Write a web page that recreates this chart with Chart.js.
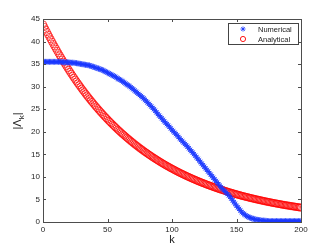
<!DOCTYPE html>
<html>
<head>
<meta charset="utf-8">
<script src="https://cdn.jsdelivr.net/npm/chart.js@4/dist/chart.umd.min.js"></script>
<style>
  body { margin: 0; background: #fff; }
  canvas { display: block; }
</style>
</head>
<body>
<canvas id="lambdaChart" width="332" height="250"></canvas>
<script>
const kValues = [0,1,2,3,4,5,6,7,8,9,10,11,12,13,14,15,16,17,18,19,20,21,22,23,24,25,26,27,28,29,
  30,31,32,33,34,35,36,37,38,39,40,41,42,43,44,45,46,47,48,49,50,51,52,53,54,55,56,57,58,59,
  60,61,62,63,64,65,66,67,68,69,70,71,72,73,74,75,76,77,78,79,80,81,82,83,84,85,86,87,88,89,
  90,91,92,93,94,95,96,97,98,99,100,101,102,103,104,105,106,107,108,109,110,111,112,113,114,
  115,116,117,118,119,120,121,122,123,124,125,126,127,128,129,130,131,132,133,134,135,136,137,
  138,139,140,141,142,143,144,145,146,147,148,149,150,151,152,153,154,155,156,157,158,159,160,
  161,162,163,164,165,166,167,168,169,170,171,172,173,174,175,176,177,178,179,180,181,182,183,
  184,185,186,187,188,189,190,191,192,193,194,195,196,197,198,199,200];

const numerical = [35.5,35.5,35.5,35.5,35.5,35.5,35.5,35.5,35.5,35.5,35.5,35.5,35.5,35.5,35.5,
  35.45,35.4,35.4,35.4,35.4,35.4,35.35,35.3,35.3,35.3,35.25,35.2,35.15,35.1,35.05,35.0,34.95,
  34.9,34.85,34.8,34.75,34.7,34.6,34.5,34.4,34.3,34.2,34.1,34.0,33.9,33.8,33.7,33.55,33.4,33.25,
  33.1,32.95,32.8,32.65,32.5,32.35,32.2,32.0,31.8,31.65,31.5,31.3,31.1,30.9,30.7,30.5,30.3,30.1,
  29.9,29.65,29.4,29.15,28.9,28.65,28.4,28.15,27.9,27.65,27.4,27.1,26.8,26.5,26.2,25.9,25.6,25.3,
  25.0,24.65,24.3,23.95,23.6,23.3,23.0,22.65,22.3,22.0,21.7,21.4,21.1,20.75,20.4,20.1,19.8,19.5,
  19.2,18.85,18.5,18.2,17.9,17.6,17.3,17.0,16.7,16.35,16.0,15.7,15.4,15.05,14.7,14.35,14.0,13.65,
  13.3,12.95,12.6,12.25,11.9,11.55,11.2,10.85,10.5,10.15,9.8,9.45,9.1,8.75,8.4,8.05,7.7,7.4,7.1,
  6.8,6.5,6.2,5.9,5.55,5.2,4.8,4.4,4.0,3.6,3.25,2.9,2.55,2.2,1.95,1.7,1.5,1.3,1.15,1.0,0.9,0.8,
  0.7,0.6,0.55,0.5,0.45,0.4,0.35,0.3,0.3,0.3,0.25,0.2,0.2,0.2,0.2,0.2,0.2,0.2,0.2,0.2,0.2,0.2,
  0.2,0.2,0.2,0.2,0.2,0.2,0.2,0.2,0.2,0.2,0.2,0.2,0.2,0.2,0.2,0.2];

const analytical = [43.8,43.23,42.67,42.11,41.56,41.02,40.49,39.96,39.44,38.93,38.42,37.92,37.43,
  36.94,36.46,35.99,35.52,35.06,34.6,34.15,33.7,33.26,32.83,32.4,31.98,31.56,31.15,30.74,30.35,
  29.95,29.56,29.17,28.8,28.42,28.05,27.68,27.33,26.97,26.62,26.27,25.93,25.59,25.26,24.93,24.61,
  24.29,23.97,23.66,23.35,23.05,22.75,22.45,22.16,21.87,21.59,21.31,21.03,20.76,20.48,20.21,19.95,
  19.69,19.44,19.19,18.94,18.69,18.45,18.21,17.97,17.74,17.5,17.27,17.05,16.83,16.61,16.39,16.18,
  15.97,15.76,15.55,15.36,15.16,14.96,14.77,14.57,14.38,14.2,14.01,13.83,13.65,13.47,13.29,13.12,
  12.95,12.78,12.61,12.45,12.29,12.13,11.97,11.82,11.67,11.51,11.36,11.21,11.06,10.92,10.78,10.64,
  10.5,10.37,10.23,10.1,9.97,9.84,9.71,9.58,9.46,9.34,9.22,9.09,8.97,8.86,8.74,8.63,8.52,8.41,8.3,
  8.19,8.08,7.98,7.88,7.77,7.67,7.57,7.47,7.37,7.27,7.18,7.09,7.0,6.91,6.82,6.73,6.64,6.55,6.47,
  6.39,6.3,6.22,6.14,6.06,5.98,5.9,5.82,5.74,5.67,5.6,5.53,5.46,5.38,5.31,5.25,5.18,5.11,5.04,4.98,
  4.92,4.85,4.79,4.72,4.66,4.6,4.54,4.48,4.42,4.37,4.31,4.25,4.19,4.14,4.09,4.04,3.99,3.93,3.88,
  3.83,3.78,3.73,3.68,3.64,3.59,3.54,3.49,3.45,3.41,3.36,3.32,3.27,3.23,3.19];

const xTicks = [0, 50, 100, 150, 200];
const yTicks = [0, 5, 10, 15, 20, 25, 30, 35, 40, 45];
const seriesNames = ['Numerical', 'Analytical'];

const axisColor = '#4d4d4d';
const fontFamily = "'Liberation Sans', Arial, sans-serif";

// matlab style box with inward ticks, y label with subscript and legend box
const matlabBox = {
  id: 'matlabBox',
  afterDraw(chart) {
    const ctx = chart.ctx;
    const a = chart.chartArea;
    const xs = chart.scales.x, ys = chart.scales.y;
    ctx.save();
    ctx.strokeStyle = axisColor;
    ctx.lineWidth = 1;
    ctx.strokeRect(a.left + 0.5, a.top + 0.5, a.right - a.left, a.bottom - a.top);
    ctx.beginPath();
    xTicks.forEach(v => {
      const px = Math.round(xs.getPixelForValue(v)) + 0.5;
      ctx.moveTo(px, a.bottom); ctx.lineTo(px, a.bottom - 3);
      ctx.moveTo(px, a.top); ctx.lineTo(px, a.top + 3);
    });
    yTicks.forEach(v => {
      const py = Math.round(ys.getPixelForValue(v)) + 0.5;
      ctx.moveTo(a.left, py); ctx.lineTo(a.left + 3, py);
      ctx.moveTo(a.right, py); ctx.lineTo(a.right - 3, py);
    });
    ctx.stroke();

    // y label |Λk|
    ctx.translate(17, 121);
    ctx.rotate(-Math.PI / 2);
    ctx.fillStyle = '#222';
    ctx.textBaseline = 'alphabetic';
    ctx.font = '11px ' + fontFamily;
    const w1 = ctx.measureText('|Λ').width;
    ctx.font = '8px ' + fontFamily;
    const w2 = ctx.measureText('k').width;
    ctx.font = '11px ' + fontFamily;
    const w3 = ctx.measureText('|').width;
    let x0 = -(w1 + w2 + w3) / 2;
    ctx.fillText('|Λ', x0, 4);
    ctx.font = '8px ' + fontFamily;
    ctx.fillText('k', x0 + w1, 7);
    ctx.font = '11px ' + fontFamily;
    ctx.fillText('|', x0 + w1 + w2, 4);
    ctx.setTransform(1, 0, 0, 1, 0, 0);

    // legend
    const lx = 228, ly = 23, lw = 70, lh = 21;
    ctx.fillStyle = '#fff';
    ctx.fillRect(lx, ly, lw, lh);
    ctx.strokeStyle = '#444';
    ctx.strokeRect(lx + 0.5, ly + 0.5, lw, lh);
    ctx.font = '7.5px ' + fontFamily;
    ctx.textBaseline = 'middle';
    chart.data.datasets.forEach((ds, i) => {
      const cy = ly + 6 + i * 10;
      ctx.strokeStyle = ds.borderColor;
      ctx.fillStyle = ds.backgroundColor;
      ctx.lineWidth = 1;
      Chart.helpers.drawPoint(ctx, {
        pointStyle: ds.pointStyle, radius: 2.6, rotation: 0, borderWidth: 1
      }, 243, cy);
      ctx.fillStyle = '#222';
      ctx.fillText(seriesNames[i], 258, cy + 0.5);
    });
    ctx.restore();
  }
};

const ctx = document.querySelector('#lambdaChart').getContext('2d');
const lambdaChart = new Chart(ctx, {
  type: 'scatter',
  data: {
    datasets: [{
      label: seriesNames[0],
      data: kValues.map((k, i) => ({ x: k, y: numerical[i] })),
      pointStyle: 'star',
      pointRadius: 3,
      borderColor: 'rgba(25, 55, 255, 0.8)',
      backgroundColor: 'rgba(25, 55, 255, 0.8)',
      borderWidth: 1
    }, {
      label: seriesNames[1],
      data: kValues.map((k, i) => ({ x: k, y: analytical[i] })),
      pointStyle: 'circle',
      pointRadius: 3.6,
      borderColor: 'rgba(255, 0, 0, 0.9)',
      backgroundColor: 'rgba(255, 255, 255, 0)',
      borderWidth: 0.8
    }]
  },
  options: {
    responsive: false,
    animation: false,
    layout: { padding: { left: 0, right: 31, top: 19, bottom: 3 } },
    plugins: {
      legend: { display: false },
      tooltip: { enabled: false }
    },
    scales: {
      x: {
        type: 'linear',
        min: 0, max: 200,
        afterBuildTicks: s => { s.ticks = xTicks.map(v => ({ value: v })); },
        afterFit: s => { s.height = 25; },
        grid: { display: false, drawTicks: false },
        border: { display: false },
        ticks: { padding: 3, color: '#262626', font: { size: 8, family: fontFamily } },
        title: { display: true, text: 'k', padding: 0, color: '#222', font: { size: 11, family: fontFamily } }
      },
      y: {
        min: 0, max: 45,
        afterBuildTicks: s => { s.ticks = yTicks.map(v => ({ value: v })); },
        afterFit: s => { s.width = 43; },
        grid: { display: false, drawTicks: false },
        border: { display: false },
        ticks: { padding: 3, color: '#262626', font: { size: 8, family: fontFamily } }
      }
    }
  },
  plugins: [matlabBox]
});
</script>
</body>
</html>
